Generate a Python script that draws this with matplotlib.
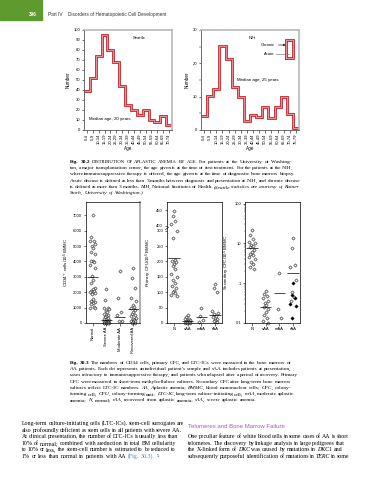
import numpy as np
import matplotlib
matplotlib.use('Agg')
import matplotlib.pyplot as plt
from matplotlib.patches import Rectangle
from matplotlib.ticker import LogLocator, NullFormatter

#=============== data =======================================
seattle_ages = ['0-4', '5-9', '10-14', '15-19', '20-24', '25-29', '30-34', '35-39',
                '40-44', '45-49', '50-54', '55-59', '60-64', '65-69', '70-74']
seattle_counts = [39, 52, 74, 95, 80, 68, 44, 25, 20, 15, 20, 10, 8, 14, 5]

nih_ages = seattle_ages + ['75-79']
nih_counts = [4.3, 10.2, 12.3, 25.3, 21.2, 12.9, 9.9, 2.8, 4.5, 3.8, 6.8, 3.6, 6.8, 9.8, 4.7, 0.7]

groups_long = ['Normal', 'Severe AA', 'Moderate AA', 'Recovered AA']
groups_short = ['N', 'sAA', 'mAA', 'rAA']

cd34_normal = [7000, 5600, 5350, 5300, 5100, 5000, 4900, 4600, 4450, 4050, 4000, 3950, 3800,
               3600, 3050, 2800, 2600, 2300, 2200, 2100, 2050, 2000, 1950, 1900, 1550, 1400,
               1350, 1300, 1250, 1050, 1000, 1000]
cd34_severe = [2200, 1500, 1000, 950, 900, 750, 700, 600, 550, 450, 400, 300, 250, 200, 150,
               120, 100, 80, 60, 50, 40, 30, 20, 10, 0, 0, 0]
cd34_moderate = [3400, 1650, 700, 500, 150, 100]
cd34_recovered = [3550, 2900, 2300, 1650, 1450, 1200, 1050, 950, 850, 700, 600, 500, 450,
                  350, 250, 200, 150, 100, 50, 30, 0]
cd34_means = [3000, 200, 400, 900]

cfu_normal = [448, 432, 415, 405, 300, 275, 205, 200, 198, 193, 185, 175, 160, 150, 140,
              130, 120, 115, 105, 100, 96, 92, 88]
cfu_severe = [25, 18, 14, 12, 10, 8, 6, 5, 4, 3, 2, 2, 1, 0, 0]
cfu_moderate = [48, 22, 10, 3]
cfu_recovered = [128, 114, 100, 40, 33, 28, 22, 18, 14, 10, 6, 3]
cfu_means = [210, 6, 20, 26]

cfc_normal = [22, 16, 13, 11, 10, 9, 8.5, 8, 7, 6, 5.5, 5, 4.5, 4, 3.5, 3, 2.6, 2.3]
cfc_severe = [0.62, 0.55, 0.48, 0.42, 0.36, 0.32, 0.28, 0.25, 0.22, 0.19, 0.16, 0.13, 0.11, 0.1]
cfc_moderate = [1.8, 0.22, 0.13]
cfc_recovered = [14, 7.5, 2.8, 2.5, 1.2, 0.6, 0.45, 0.35]
cfc_recovered_black = [1.0, 0.5, 0.42, 0.3, 0.26, 0.13]
cfc_means = [7.7, 0.25, 0.56, 1.85]

#=============== page ======================================
W, H = 374.0, 480.0
fig = plt.figure(figsize=(3.74, 4.8), dpi=100)
renderer = fig.canvas.get_renderer()

SANS = 'Liberation Sans'
SERIF = 'Liberation Serif'
RED = '#c2262e'
PINK = '#f3a3a8'


def px_axes(x0, y0, x1, y1):
    return fig.add_axes([x0 / W, 1 - y1 / H, (x1 - x0) / W, (y1 - y0) / H])


def text_block(x0, x1, top, step, lines, size, family=SERIF):
    # justified lines, set word by word; the last line stays ragged
    space = 0.28 * size * 100 / 72
    for i, parts in enumerate(lines):
        y = 1 - (top + i * step) / H
        ws = []
        for txt, kw in parts:
            for w in txt.split():
                opts = dict(fontsize=size, family=family, va='baseline', ha='left')
                opts.update(kw)
                if 'scale' in opts:
                    opts['fontsize'] = size * opts.pop('scale')
                t = fig.text(x0 / W, y, w, **opts)
                ws.append((t, t.get_window_extent(renderer).width))
        gap = space
        if i < len(lines) - 1 and len(ws) > 1:
            gap = max((x1 - x0 - sum(w for _, w in ws)) / (len(ws) - 1), 0.6 * space)
        x = x0
        for t, w in ws:
            t.set_x(x / W)
            x += w + gap


N = {}
IT = {'style': 'italic'}
BD = {'weight': 'bold'}

# header
fig.patches.append(Rectangle((0, 1 - 20 / H), 42 / W, 20 / H, transform=fig.transFigure,
                             color='#5f9a2f', zorder=0))
fig.text(37 / W, 1 - 16 / H, '396', fontsize=3.4, family=SANS, color='white',
         ha='right', va='baseline', weight='bold')
fig.text(48 / W, 1 - 16 / H, 'Part IV    Disorders of Hematopoietic Cell Development',
         fontsize=3.4, family=SANS, color='#333333', va='baseline')


#=============== age histograms ============================
def step_chart(ax, counts, ages, ymax, yticks):
    edges = np.arange(len(counts) + 1)
    y = np.append(counts, counts[-1])
    ax.step(edges, y, where='post', color=RED, lw=2.0, solid_joinstyle='miter')
    ax.step(edges, y, where='post', color=PINK, lw=0.6)
    ax.set_xlim(0, len(counts))
    ax.set_ylim(0, ymax)
    ax.set_xticks(edges[:-1] + 0.5)
    ax.set_xticklabels(ages, rotation=90, fontsize=3, family=SANS)
    ax.set_yticks(yticks)
    ax.set_yticklabels([str(v) for v in yticks], fontsize=3, family=SANS)
    ax.tick_params(length=1.8, width=0.4, pad=1)
    for s in ax.spines.values():
        s.set_color('#b3b3b3')
        s.set_linewidth(1.1)
    ax.spines['left'].set_color('#555555')
    ax.spines['left'].set_linewidth(0.6)
    ax.spines['bottom'].set_color('#555555')
    ax.spines['bottom'].set_linewidth(0.6)
    ax.set_xlabel('Age', fontsize=3.3, family=SANS, labelpad=1.5)
    ax.set_ylabel('Number', fontsize=3.3, family=SANS, labelpad=2)


ax1 = px_axes(84, 30, 172, 130)
step_chart(ax1, seattle_counts, seattle_ages, 100, list(range(0, 101, 10)))
ax1.text(8.3, 91, 'Seattle', fontsize=3, family=SANS)
ax1.text(0.9, 9.5, 'Median age, 20 years', fontsize=3.2, family=SANS)

ax2 = px_axes(201, 30, 299, 130)
step_chart(ax2, nih_counts, nih_ages, 30, [0, 10, 20, 30])
ax2.set_yticks([5, 15, 25], minor=True)
ax2.tick_params(which='minor', length=1.2, width=0.3)
ax2.text(7.7, 27.3, 'NIH', fontsize=3, family=SANS)
ax2.text(5.9, 14.6, 'Median age, 25 years', fontsize=3.2, family=SANS)
ax2.text(12.0, 25.5, 'Chronic', fontsize=3, family=SANS, ha='right', va='center')
ax2.text(12.0, 22.7, 'Acute', fontsize=3, family=SANS, ha='right', va='center')
ax2.annotate('', xy=(14.3, 25.5), xytext=(12.2, 25.5),
             arrowprops=dict(arrowstyle='-|>', color='#222222', lw=0.5, mutation_scale=3))
ax2.plot([12.2, 14.3], [22.7, 22.7], color='#999999', lw=0.6)
box_x = [13.8, 15.0, 15.0, 13.8, 13.8]
box_y = [21.5, 21.5, 27.0, 27.0, 21.5]
ax2.plot(box_x, box_y, color=RED, lw=2.0, solid_joinstyle='miter')
ax2.plot(box_x, box_y, color=PINK, lw=0.6)

cap2 = [
    [('Fig. 30.2', BD), ('DISTRIBUTION OF APLASTIC ANEMIA BY AGE.', {'scale': 0.88}),
     ('For patients at the University of Washing-', N)],
    [('ton, a major transplantation center, the age given is at the time of first treatment. For the patients at the NIH,', N)],
    [('where immunosuppressive therapy is offered, the age given is at the time of diagnostic bone marrow biopsy.', N)],
    [('Acute disease is defined as less than 3 months between diagnosis and presentation at NIH, and chronic disease', N)],
    [('is defined as more than 3 months.', N), ('NIH,', IT), ('National Institutes of Health.', N),
     ('(Seattle statistics are courtesy of Rainer', IT)],
    [('Storb, University of Washington.)', IT)],
]
text_block(70, 291, 163, 6.2, cap2, 3.85)


#=============== dot plots =================================
def spread(values, center, step):
    # side by side offsets so neighbouring diamonds stay visible
    offs = [0, -1, 1, -2, 2, -0.5, 0.5, -1.5, 1.5]
    return [center + offs[i % len(offs)] * step for i in range(len(values))]


def dot_style(ax, ylabel):
    ax.set_xlim(-0.5, 3.5)
    ax.set_xticks(range(4))
    ax.tick_params(length=1.8, width=0.4, pad=1, labelsize=3)
    for s in ax.spines.values():
        s.set_linewidth(0.5)
    ax.set_ylabel(ylabel, fontsize=3.2, family=SANS, labelpad=1.5)
    for lab in ax.get_yticklabels():
        lab.set_family(SANS)


def diamonds(ax, xs, ys, face='white'):
    ax.plot(xs, ys, 'D', ms=1.7, mfc=face, mec='black', mew=0.35, ls='none', clip_on=False)


# CD34+ cells
ax3 = px_axes(86, 202, 140, 323)
for i, vals in enumerate([cd34_normal, cd34_severe, cd34_moderate, cd34_recovered]):
    diamonds(ax3, spread(vals, i, 0.1), vals)
    ax3.hlines(cd34_means[i], i - 0.42, i + 0.42, color='black', lw=0.5)
ax3.set_ylim(0, 7860)
ax3.set_yticks(range(0, 7001, 1000))
ax3.set_xticklabels(groups_long, rotation=90, fontsize=3.2, family=SANS)
dot_style(ax3, 'CD34$^+$ cells/10$^5$ BMMC')
ax3.spines['right'].set_color('#a0a0a0')
ax3.spines['right'].set_linewidth(1.2)


# primary CFU, axis broken between 300 and 400
def cut(v):
    return v if v <= 300 else v - 84


ax4 = px_axes(167, 202, 222, 323)
for i, vals in enumerate([cfu_normal, cfu_severe, cfu_moderate, cfu_recovered]):
    diamonds(ax4, spread(vals, i, 0.1), [cut(v) for v in vals])
    ax4.hlines(cut(cfu_means[i]), i - 0.42, i + 0.42, color='black', lw=0.5)
ax4.set_ylim(0, 393)
tick_vals = [0, 50, 100, 150, 200, 250, 300, 400, 450]
ax4.set_yticks([cut(v) for v in tick_vals])
ax4.set_yticklabels([str(v) for v in tick_vals])
ax4.set_xticklabels(groups_short, fontsize=3.2, family=SANS)
dot_style(ax4, 'Primary CFU/10$^5$ BMMC')
ax4.plot([-0.62, -0.38], [303, 311], color='black', lw=0.4, clip_on=False)

# secondary CFC, log axis
ax5 = px_axes(245, 202, 300, 323)
for i, vals in enumerate([cfc_normal, cfc_severe, cfc_moderate, cfc_recovered]):
    diamonds(ax5, spread(vals, i, 0.1), vals)
    ax5.hlines(cfc_means[i], i - 0.42, i + 0.42, color='black', lw=0.5)
diamonds(ax5, spread(cfc_recovered_black, 3, 0.1), cfc_recovered_black, face='black')
ax5.set_yscale('log')
ax5.set_ylim(0.1, 110)
ax5.set_yticks([0.1, 1, 10, 100])
ax5.set_yticklabels(['0.1', '1', '10', '100'])
ax5.yaxis.set_minor_locator(LogLocator(subs=np.arange(2, 10)))
ax5.yaxis.set_minor_formatter(NullFormatter())
ax5.tick_params(which='minor', length=1.0, width=0.3)
ax5.set_xticklabels(groups_short, fontsize=3.2, family=SANS)
dot_style(ax5, 'Secondary CFC/10$^5$ BMMC')

cap3 = [
    [('Fig. 30.3', BD), ('The numbers of CD34 cells, primary CFC, and LTC-ICs were measured in the bone marrow of', N)],
    [('AA patients. Each dot represents an individual patient\u2019s sample and sAA includes patients at presentation,', N)],
    [('cases refractory to immunosuppressive therapy, and patients who relapsed after a period of recovery. Primary', N)],
    [('CFC were measured in short-term methylcellulose cultures. Secondary CFC after long-term bone marrow', N)],
    [('cultures reflect LTC-IC numbers.', N), ('AA,', IT), ('Aplastic anemia;', N), ('BMMC,', IT),
     ('blood mononuclear cells;', N), ('CFC,', IT), ('colony-', N)],
    [('forming cell;', N), ('CFU,', IT), ('colony-forming unit;', N), ('LTC-IC,', IT),
     ('long-term culture-initiating cell;', N), ('mAA,', IT), ('moderate aplastic', N)],
    [('anemia;', N), ('N,', IT), ('normal;', N), ('rAA,', IT), ('recovered from aplastic anemia;', N),
     ('sAA,', IT), ('severe aplastic anemia.', N)],
]
text_block(70, 291, 364, 6.2, cap3, 3.85)

#=============== body text =================================
left_col = [
    [('Long-term culture-initiating cells (LTC-ICs), stem-cell surrogates are', N)],
    [('also profoundly deficient as stem cells in all patients with severe AA.', N)],
    [('At clinical presentation, the number of LTC-ICs is usually less than', N)],
    [('10% of normal; combined with a reduction in total BM cellularity', N)],
    [('to 10% or less, the stem-cell number is estimated to be reduced to', N)],
    [('1% or less than normal in patients with AA', N), ('(Fig. 30.3).', {'color': '#3d7fc1'}),
     ('\u2075', N)],
]
text_block(22, 176, 425, 6.6, left_col, 4.2)

fig.text(188 / W, 1 - 428 / H, 'Telomeres and Bone Marrow Failure', fontsize=4.3,
         family=SANS, color='#a35fb0', va='baseline')
right_col = [
    [('One peculiar feature of white blood cells in some cases of AA is short', N)],
    [('telomeres. The discovery by linkage analysis in large pedigrees that', N)],
    [('the X-linked form of', N), ('DKC', IT), ('was caused by mutations in', N), ('DKC1', IT), ('and', N)],
    [('subsequently purposeful identification of mutations in', N), ('TERC', IT), ('in some', N)],
    [('', N)],
]
text_block(188, 342, 425 + 2 * 6.6, 6.6, right_col, 4.2)

fig.savefig('out.png', dpi=100)
